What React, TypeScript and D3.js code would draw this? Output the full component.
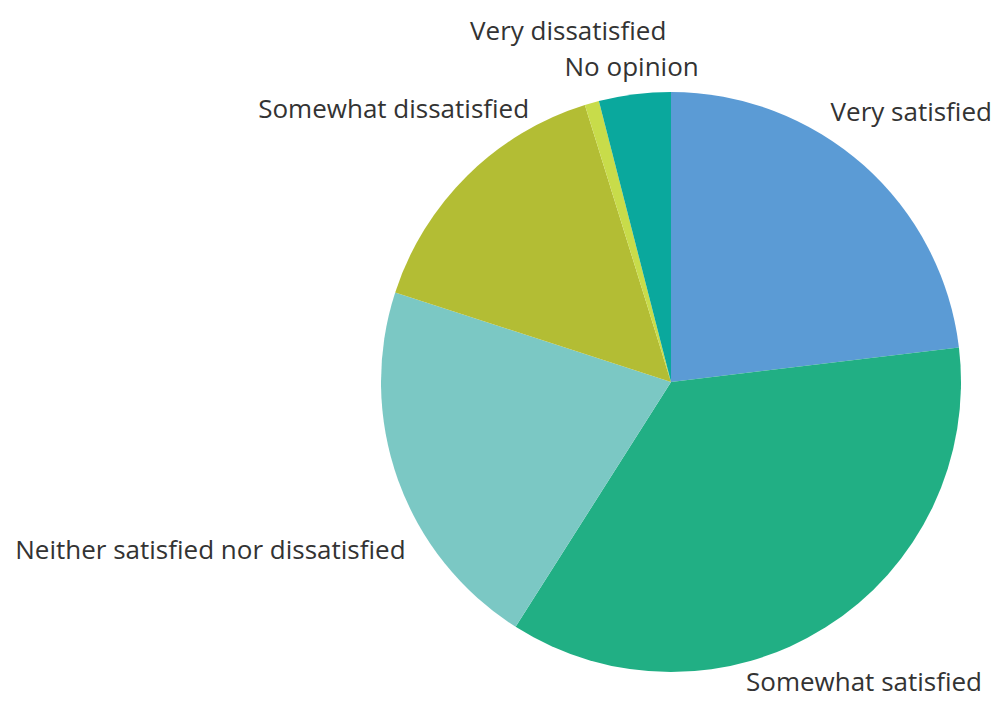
import React from "react";
import * as d3 from "d3";

const categories = [
  "Very satisfied",
  "Somewhat satisfied",
  "Neither satisfied nor dissatisfied",
  "Somewhat dissatisfied",
  "Very dissatisfied",
  "No opinion",
];
const values = [23.1, 35.9, 21.0, 15.2, 0.8, 4.0];
const colors = ["#5b9bd5", "#21af84", "#7bc8c4", "#b3bd34", "#c8dc4a", "#0aa89d"];
// label nudges (px) applied after placing labels along slice mid-angle
const labelNudgeX = [0, 0, -120, -23, -4, 6];
const labelNudgeY = [0, -7, 44, -16, -4, 43];

const W = 996;
const H = 705;
const CX = 671;
const CY = 382;
const R = 290;
const LABEL_R = 362;

export default function App() {
  const pie = d3.pie<number>().sort(null).value((d) => d).startAngle(0).endAngle(2 * Math.PI);
  const arcs = pie(values);
  const arcGen = d3.arc<d3.PieArcDatum<number>>().innerRadius(0).outerRadius(R);
  return (
    <svg
      width={W}
      height={H}
      style={{ position: "absolute", left: 0, top: 0, background: "#fff" }}
    >
      <g transform={`translate(${CX},${CY})`}>
        {arcs.map((a, i) => (
          <path key={i} d={arcGen(a) || ""} fill={colors[i]} />
        ))}
        {arcs.map((a, i) => {
          const mid = (a.startAngle + a.endAngle) / 2;
          const x = Math.sin(mid) * LABEL_R + labelNudgeX[i];
          const y = -Math.cos(mid) * LABEL_R + labelNudgeY[i];
          return (
            <text
              key={"t" + i}
              x={x}
              y={y}
              textAnchor="middle"
              dominantBaseline="central"
              fontFamily="'Open Sans', 'Noto Sans', sans-serif"
              fontSize={26}
              fill="#333"
            >
              {categories[i]}
            </text>
          );
        })}
      </g>
    </svg>
  );
}
